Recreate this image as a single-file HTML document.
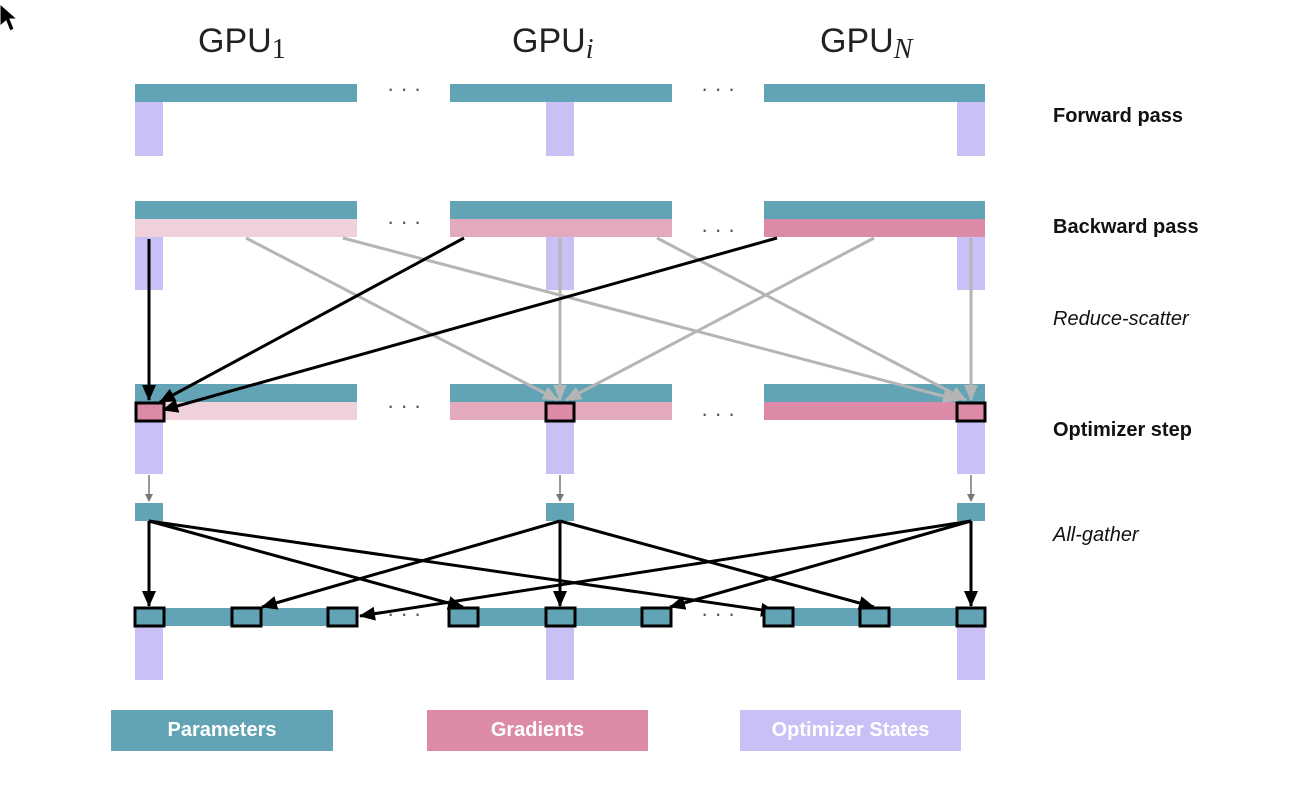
<!DOCTYPE html>
<html><head><style>
body{margin:0;background:#fff;width:1298px;height:806px;overflow:hidden;position:relative;font-family:"Liberation Sans",sans-serif}
.t{position:absolute;font-size:20px;color:#111}
.h{position:absolute;font-size:34px;color:#222;top:22px}
.h span{position:relative;top:6px}
.lg{position:absolute;top:710px;height:41px;color:#fff;font-weight:bold;font-size:20px;text-align:center;line-height:41px}
</style></head><body>
<div class="h" style="left:198px">GPU<span style="font-family:'Liberation Serif',serif;font-size:28px">1</span></div>
<div class="h" style="left:512px">GPU<span style="font-family:'Liberation Serif',serif;font-style:italic;font-size:28px">i</span></div>
<div class="h" style="left:820px">GPU<span style="font-family:'Liberation Serif',serif;font-style:italic;font-size:28px">N</span></div>
<div class="t" style="left:1053px;top:105px;font-weight:bold">Forward pass</div>
<div class="t" style="left:1053px;top:216px;font-weight:bold">Backward pass</div>
<div class="t" style="left:1053px;top:308px;font-style:italic">Reduce-scatter</div>
<div class="t" style="left:1053px;top:419px;font-weight:bold">Optimizer step</div>
<div class="t" style="left:1053px;top:524px;font-style:italic">All-gather</div>
<div class="lg" style="left:111px;width:222px;background:#62a3b5">Parameters</div>
<div class="lg" style="left:427px;width:221px;background:#dc8aa8">Gradients</div>
<div class="lg" style="left:740px;width:221px;background:#c9c0f5">Optimizer States</div>
<svg width="1298" height="806" style="position:absolute;left:0;top:0">
<defs>
<marker id="abb" markerWidth="16" markerHeight="14" refX="15" refY="7" orient="auto" markerUnits="userSpaceOnUse"><path d="M0,0L16,7L0,14z" fill="#000"/></marker>
<marker id="ag" markerWidth="16" markerHeight="14" refX="15" refY="7" orient="auto" markerUnits="userSpaceOnUse"><path d="M0,0L16,7L0,14z" fill="#b5b5b5"/></marker>
<marker id="as" markerWidth="8" markerHeight="8" refX="7" refY="4" orient="auto" markerUnits="userSpaceOnUse"><path d="M0,0L8,4L0,8z" fill="#777"/></marker>
</defs>
<path d="M0,4L0,26L6,21L10,31L14,29L10,19L17,19z" fill="#000" stroke="#fff" stroke-width="1"/>
<g fill="#62a3b5">
<rect x="135" y="84" width="222" height="18"/><rect x="450" y="84" width="222" height="18"/><rect x="764" y="84" width="221" height="18"/>
<rect x="135" y="201" width="222" height="18"/><rect x="450" y="201" width="222" height="18"/><rect x="764" y="201" width="221" height="18"/>
<rect x="135" y="384" width="222" height="18"/><rect x="450" y="384" width="222" height="18"/><rect x="764" y="384" width="221" height="18"/>
<rect x="135" y="503" width="28" height="18"/><rect x="546" y="503" width="28" height="18"/><rect x="957" y="503" width="28" height="18"/>
<rect x="135" y="608" width="222" height="18"/><rect x="450" y="608" width="222" height="18"/><rect x="764" y="608" width="221" height="18"/>
</g>
<rect x="135" y="219" width="222" height="18" fill="#f0d0da"/><rect x="450" y="219" width="222" height="18" fill="#e3aabd"/><rect x="764" y="219" width="221" height="18" fill="#dc8aa8"/>
<rect x="135" y="402" width="222" height="18" fill="#f0d0da"/><rect x="450" y="402" width="222" height="18" fill="#e3aabd"/><rect x="764" y="402" width="221" height="18" fill="#dc8aa8"/>
<g fill="#c9c0f5">
<rect x="135" y="102" width="28" height="54"/><rect x="546" y="102" width="28" height="54"/><rect x="957" y="102" width="28" height="54"/>
<rect x="135" y="237" width="28" height="53"/><rect x="546" y="237" width="28" height="53"/><rect x="957" y="237" width="28" height="53"/>
<rect x="135" y="420" width="28" height="54"/><rect x="546" y="420" width="28" height="54"/><rect x="957" y="420" width="28" height="54"/>
<rect x="135" y="626" width="28" height="54"/><rect x="546" y="626" width="28" height="54"/><rect x="957" y="626" width="28" height="54"/>
</g>
<g fill="#555" font-size="22" font-family="Liberation Sans"><text x="387" y="96">· · ·</text><text x="701" y="96">· · ·</text><text x="387" y="229">· · ·</text><text x="701" y="237">· · ·</text><text x="387" y="413">· · ·</text><text x="701" y="421">· · ·</text><text x="387" y="621">· · ·</text><text x="701" y="621">· · ·</text></g>
<g stroke="#b5b5b5" stroke-width="3" marker-end="url(#ag)">
<line x1="246" y1="238" x2="558" y2="400"/><line x1="343" y1="238" x2="958" y2="400"/>
<line x1="560" y1="238" x2="560" y2="400"/><line x1="657" y1="238" x2="966" y2="400"/>
<line x1="874" y1="238" x2="566" y2="400"/><line x1="971" y1="238" x2="971" y2="400"/>
</g>
<g stroke="#000" stroke-width="3" marker-end="url(#abb)">
<line x1="149" y1="239" x2="149" y2="400"/><line x1="464" y1="238" x2="160" y2="402"/><line x1="777" y1="238" x2="163" y2="410"/>
</g>
<g fill="#dc8aa8" stroke="#000" stroke-width="3">
<rect x="136" y="403" width="28" height="18"/><rect x="546" y="403" width="28" height="18"/><rect x="957" y="403" width="28" height="18"/>
</g>
<g stroke="#777" stroke-width="1.5" marker-end="url(#as)">
<line x1="149" y1="475" x2="149" y2="501"/><line x1="560" y1="475" x2="560" y2="501"/><line x1="971" y1="475" x2="971" y2="501"/>
</g>
<g stroke="#000" stroke-width="3" marker-end="url(#abb)">
<line x1="149" y1="521" x2="149" y2="606"/><line x1="149" y1="521" x2="463" y2="607"/><line x1="149" y1="521" x2="776" y2="612"/>
<line x1="560" y1="521" x2="262" y2="607"/><line x1="560" y1="521" x2="560" y2="606"/><line x1="560" y1="521" x2="874" y2="607"/>
<line x1="971" y1="521" x2="360" y2="616"/><line x1="971" y1="521" x2="670" y2="607"/><line x1="971" y1="521" x2="971" y2="606"/>
</g>
<g fill="#62a3b5" stroke="#000" stroke-width="3">
<rect x="135" y="608" width="29" height="18"/><rect x="232" y="608" width="29" height="18"/><rect x="328" y="608" width="29" height="18"/>
<rect x="449" y="608" width="29" height="18"/><rect x="546" y="608" width="29" height="18"/><rect x="642" y="608" width="29" height="18"/>
<rect x="764" y="608" width="29" height="18"/><rect x="860" y="608" width="29" height="18"/><rect x="957" y="608" width="28" height="18"/>
</g>
</svg>
</body></html>
